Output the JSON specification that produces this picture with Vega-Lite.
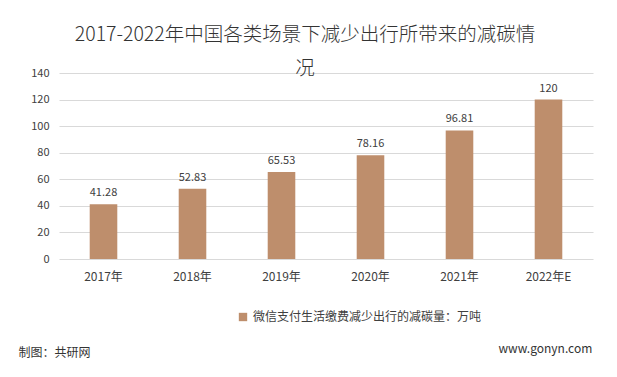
{
  "$schema": "https://vega.github.io/schema/vega-lite/v6.json",
  "width": 534,
  "height": 186,
  "autosize": {"type": "none"},
  "padding": {"left": 59, "top": 73, "right": 24, "bottom": 118},
  "background": "white",
  "config": {
    "font": "Noto Sans CJK SC",
    "view": {"stroke": null}
  },
  "title": {
    "text": ["2017-2022年中国各类场景下减少出行所带来的减碳情", "况"],
    "fontSize": 19.5,
    "fontWeight": 300,
    "color": "#333333",
    "font": "Noto Sans CJK SC",
    "anchor": "middle",
    "lineHeight": 34,
    "dx": -21,
    "offset": -12
  },
  "data": {
    "values": [
      {"year": "2017年", "value": 41.28, "series": "微信支付生活缴费减少出行的减碳量：万吨"},
      {"year": "2018年", "value": 52.83, "series": "微信支付生活缴费减少出行的减碳量：万吨"},
      {"year": "2019年", "value": 65.53, "series": "微信支付生活缴费减少出行的减碳量：万吨"},
      {"year": "2020年", "value": 78.16, "series": "微信支付生活缴费减少出行的减碳量：万吨"},
      {"year": "2021年", "value": 96.81, "series": "微信支付生活缴费减少出行的减碳量：万吨"},
      {"year": "2022年E", "value": 120, "series": "微信支付生活缴费减少出行的减碳量：万吨"}
    ]
  },
  "encoding": {
    "x": {
      "field": "year",
      "type": "nominal",
      "sort": null,
      "scale": {"paddingInner": 0.69, "paddingOuter": 0.345},
      "axis": {
        "title": "制图：共研网",
        "titleFont": "Noto Sans CJK SC",
        "titleFontSize": 12,
        "titleFontWeight": "normal",
        "titleColor": "#333333",
        "titleX": -41,
        "titleY": 93,
        "titleAlign": "left",
        "titleBaseline": "middle",
        "titleAnchor": null,
        "labelAngle": 0,
        "labelFontSize": 12,
        "labelColor": "#404040",
        "labelPadding": 12,
        "ticks": false,
        "domain": false
      }
    },
    "y": {
      "field": "value",
      "type": "quantitative",
      "scale": {"domain": [0, 140]},
      "axis": {
        "values": [0, 20, 40, 60, 80, 100, 120, 140],
        "title": "www.gonyn.com",
        "titleFont": "Noto Sans CJK SC",
        "titleFontSize": 12,
        "titleFontWeight": "normal",
        "titleColor": "#333333",
        "titleAngle": 0,
        "titleX": 439,
        "titleY": 275,
        "titleAlign": "left",
        "titleBaseline": "middle",
        "titleAnchor": null,
        "labelFontSize": 11,
        "labelColor": "#404040",
        "labelPadding": 10,
        "ticks": false,
        "domain": false,
        "gridColor": "#d9d9d9",
        "gridWidth": 1
      }
    }
  },
  "layer": [
    {
      "mark": {"type": "bar", "color": "#BE8E6C"},
      "encoding": {
        "color": {
          "field": "series",
          "type": "nominal",
          "scale": {"range": ["#BE8E6C"]},
          "legend": {
            "title": null,
            "orient": "none",
            "legendX": 178,
            "legendY": 238,
            "symbolType": "square",
            "symbolSize": 70,
            "labelFontSize": 12,
            "labelColor": "#404040",
            "labelFont": "Noto Sans CJK SC",
            "labelLimit": 400,
            "symbolOffset": 0
          }
        }
      }
    },
    {
      "mark": {"type": "text", "dy": -11, "fontSize": 11, "color": "#404040"},
      "encoding": {"text": {"field": "value", "type": "quantitative"}}
    }
  ]
}
